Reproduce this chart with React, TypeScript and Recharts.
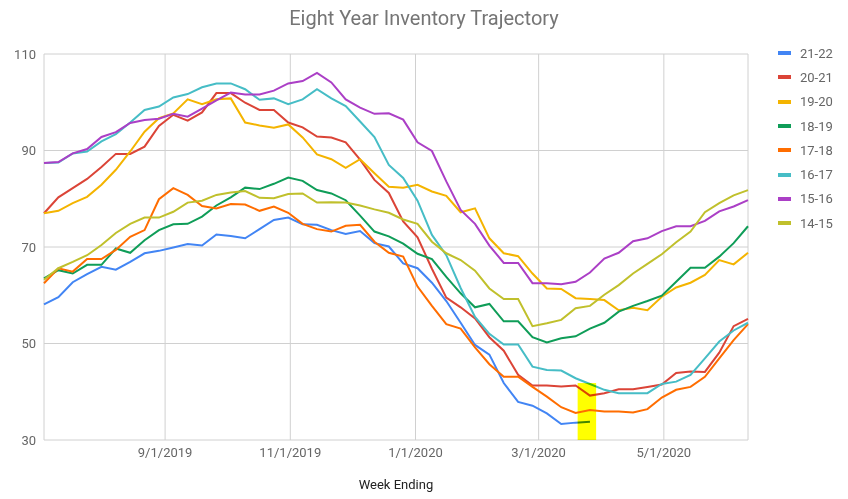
import React from 'react';
import { LineChart, Line, XAxis, YAxis, CartesianGrid, Legend, ReferenceArea } from 'recharts';

const weekEnding = [
  '2019-07-04', '2019-07-11', '2019-07-18', '2019-07-25', '2019-08-01', '2019-08-08', '2019-08-15', '2019-08-22', '2019-08-29', '2019-09-05',
  '2019-09-12', '2019-09-19', '2019-09-26', '2019-10-03', '2019-10-10', '2019-10-17', '2019-10-24', '2019-10-31', '2019-11-07', '2019-11-14',
  '2019-11-21', '2019-11-28', '2019-12-05', '2019-12-12', '2019-12-19', '2019-12-26', '2020-01-02', '2020-01-09', '2020-01-16', '2020-01-23',
  '2020-01-30', '2020-02-06', '2020-02-13', '2020-02-20', '2020-02-27', '2020-03-05', '2020-03-12', '2020-03-19', '2020-03-26', '2020-04-02',
  '2020-04-09', '2020-04-16', '2020-04-23', '2020-04-30', '2020-05-07', '2020-05-14', '2020-05-21', '2020-05-28', '2020-06-04', '2020-06-11',
];

const tickDates = ['2019-09-01', '2019-11-01', '2020-01-01', '2020-03-01', '2020-05-01'];
const yTicks = [30, 50, 70, 90, 110];

const s2122 = [58.1, 59.6, 62.7, 64.4, 65.9, 65.3, 66.9, 68.7, 69.2, 69.9, 70.6, 70.3, 72.6, 72.3, 71.8, 73.7, 75.6, 76.1, 74.7, 74.6, 73.5, 72.7, 73.3, 70.8, 70.1, 66.6, 65.6, 62.6, 58.8, 54.3, 49.7, 47.7, 41.8, 37.9, 37.1, 35.5, 33.3, 33.6, 33.8];
const s2021 = [77.0, 80.3, 82.2, 84.1, 86.6, 89.3, 89.3, 90.8, 95.1, 97.4, 96.2, 97.9, 101.9, 101.9, 99.9, 98.4, 98.4, 95.8, 94.8, 92.9, 92.7, 91.7, 88.1, 83.9, 81.2, 75.3, 72.0, 65.5, 59.5, 57.5, 55.2, 51.3, 48.5, 43.5, 41.3, 41.3, 41.1, 41.3, 39.2, 39.7, 40.5, 40.5, 41.0, 41.5, 43.9, 44.2, 44.1, 48.1, 53.6, 55.1];
const s1920 = [77.0, 77.5, 79.1, 80.4, 82.9, 86.0, 89.8, 93.9, 96.7, 97.7, 100.6, 99.6, 100.6, 100.8, 95.8, 95.2, 94.7, 95.4, 92.7, 89.2, 88.2, 86.4, 88.2, 85.3, 82.5, 82.3, 82.9, 81.5, 80.6, 77.2, 78.0, 71.8, 68.7, 68.1, 64.5, 61.4, 61.3, 59.4, 59.2, 59.0, 56.9, 57.4, 56.9, 59.7, 61.6, 62.6, 64.2, 67.3, 66.4, 68.8];
const s1819 = [63.5, 65.2, 64.5, 66.3, 66.3, 69.7, 68.8, 71.4, 73.5, 74.7, 74.8, 76.3, 78.6, 80.3, 82.3, 82.0, 83.1, 84.4, 83.7, 81.8, 81.1, 79.7, 76.5, 73.2, 72.2, 70.7, 68.6, 67.5, 63.8, 60.4, 57.5, 58.2, 54.6, 54.6, 51.3, 50.2, 51.1, 51.5, 53.1, 54.3, 56.6, 57.8, 58.8, 59.9, 62.8, 65.7, 65.7, 68.0, 70.8, 74.3];
const s1718 = [62.5, 65.6, 64.9, 67.5, 67.5, 69.4, 72.1, 73.5, 79.9, 82.2, 80.8, 78.5, 78.0, 78.9, 78.8, 77.5, 78.4, 77.1, 74.8, 73.7, 73.2, 74.4, 74.6, 71.1, 68.8, 68.0, 61.8, 57.8, 54.0, 53.1, 49.2, 45.7, 43.1, 43.1, 41.0, 39.0, 36.8, 35.6, 36.2, 35.9, 35.9, 35.7, 36.4, 38.8, 40.4, 41.0, 43.1, 46.9, 50.7, 54.0];
const s1617 = [87.4, 87.5, 89.4, 89.8, 91.9, 93.4, 95.8, 98.4, 99.1, 101.0, 101.7, 103.1, 103.9, 103.9, 102.7, 100.5, 100.8, 99.6, 100.6, 102.7, 100.8, 99.2, 96.0, 92.8, 87.0, 84.3, 79.6, 72.5, 68.3, 61.5, 55.5, 52.0, 49.8, 49.8, 45.2, 44.5, 44.4, 42.8, 41.6, 40.4, 39.7, 39.7, 39.7, 41.6, 42.1, 43.5, 46.9, 50.4, 52.7, 54.3];
const s1516 = [87.4, 87.6, 89.4, 90.3, 92.8, 93.8, 95.7, 96.3, 96.6, 97.6, 97.0, 98.7, 100.4, 102.0, 101.6, 101.6, 102.4, 103.9, 104.4, 106.1, 104.1, 100.6, 98.9, 97.6, 97.7, 96.4, 91.7, 89.9, 83.6, 77.7, 74.8, 70.3, 66.7, 66.7, 62.5, 62.5, 62.3, 62.8, 64.7, 67.6, 68.8, 71.2, 71.8, 73.3, 74.3, 74.3, 75.4, 77.4, 78.4, 79.7];
const s1415 = [63.2, 65.6, 66.9, 68.3, 70.4, 72.9, 74.8, 76.1, 76.1, 77.3, 79.2, 79.6, 80.8, 81.3, 81.6, 80.2, 80.1, 81.0, 81.1, 79.2, 79.3, 79.2, 78.6, 77.8, 77.1, 75.7, 74.8, 71.1, 68.7, 67.3, 65.1, 61.4, 59.2, 59.2, 53.6, 54.2, 54.9, 57.3, 57.8, 60.1, 62.1, 64.5, 66.5, 68.5, 71.0, 73.2, 77.2, 79.1, 80.7, 81.8];

const seriesNames = ['21-22', '20-21', '19-20', '18-19', '17-18', '16-17', '15-16', '14-15'];
const seriesValues = [s2122, s2021, s1920, s1819, s1718, s1617, s1516, s1415];
const seriesColors = ['#4285F4', '#DB4437', '#F4B400', '#0F9D58', '#FF6D00', '#46BDC6', '#AB3FC6', '#C0C02C'];

const highlightStart = '2020-03-20';
const highlightEnd = '2020-03-29';
const highlightTop = 41.8;

const data = weekEnding.map((d, i) => {
  const row: Record<string, number | null> = { t: Date.parse(d) };
  seriesNames.forEach((n, k) => {
    const v = seriesValues[k][i];
    row[n] = v === undefined ? null : v;
  });
  return row;
});

const fmtDate = (t: number) => {
  const d = new Date(t);
  return `${d.getUTCMonth() + 1}/${d.getUTCDate()}/${d.getUTCFullYear()}`;
};

const renderLegend = (props: any) => {
  const payload = [...(props.payload || [])].sort(
    (a: any, b: any) => seriesNames.indexOf(a.value) - seriesNames.indexOf(b.value)
  );
  return (
    <div style={{ fontFamily: 'Roboto', fontSize: 13, color: '#666' }}>
      {payload.map((p: any) => (
        <div key={p.value} style={{ height: 24.3, display: 'flex', alignItems: 'center' }}>
          <span style={{ display: 'inline-block', width: 13, height: 4, background: p.color, marginLeft: 8, marginRight: 9 }} />
          <span>{p.value}</span>
        </div>
      ))}
    </div>
  );
};

const HighlightShape = (p: any) => (
  <rect x={p.x} y={p.y} width={p.width} height={p.height} fill="#FFFF00" style={{ mixBlendMode: 'multiply' }} />
);

export default function App() {
  return (
    <div style={{ position: 'absolute', left: 0, top: 0, width: 848, height: 499, fontFamily: 'Roboto', background: '#fff' }}>
      <div style={{ position: 'absolute', left: 0, top: 7.5, width: 848, textAlign: 'center', fontSize: 20, lineHeight: '20px', color: '#757575', zIndex: 2 }}>
        Eight Year Inventory Trajectory
      </div>
      <LineChart width={848} height={499} data={data} margin={{ top: 54, right: 22, bottom: 29, left: 0 }}>
        <CartesianGrid stroke="#d0d0d0" strokeWidth={1} />
        <XAxis
          dataKey="t"
          type="number"
          scale="time"
          domain={[Date.parse(weekEnding[0]), Date.parse(weekEnding[weekEnding.length - 1])]}
          ticks={tickDates.map((d) => Date.parse(d))}
          tickFormatter={fmtDate}
          axisLine={false}
          tickLine={false}
          height={30}
          tick={{ fill: '#666', fontSize: 13 }}
          label={{ value: 'Week Ending', position: 'bottom', offset: 10, fill: '#222', fontSize: 13 }}
        />
        <YAxis
          domain={[30, 110]}
          ticks={yTicks}
          width={44}
          axisLine={false}
          tickLine={false}
          tick={{ fill: '#666', fontSize: 13 }}
        />
        <Legend
          layout="vertical"
          align="right"
          verticalAlign="top"
          content={renderLegend}
          wrapperStyle={{ left: 770, top: 41, width: 78 }}
        />
        {seriesNames.map((n, k) => (
          <Line
            key={n}
            type="linear"
            dataKey={n}
            name={n}
            stroke={seriesColors[k]}
            strokeWidth={2}
            dot={false}
            isAnimationActive={false}
            connectNulls={false}
          />
        ))}
        <ReferenceArea
          x1={Date.parse(highlightStart)}
          x2={Date.parse(highlightEnd)}
          y1={30}
          y2={highlightTop}
          shape={HighlightShape}
          zIndex={1000}
        />
      </LineChart>
    </div>
  );
}
